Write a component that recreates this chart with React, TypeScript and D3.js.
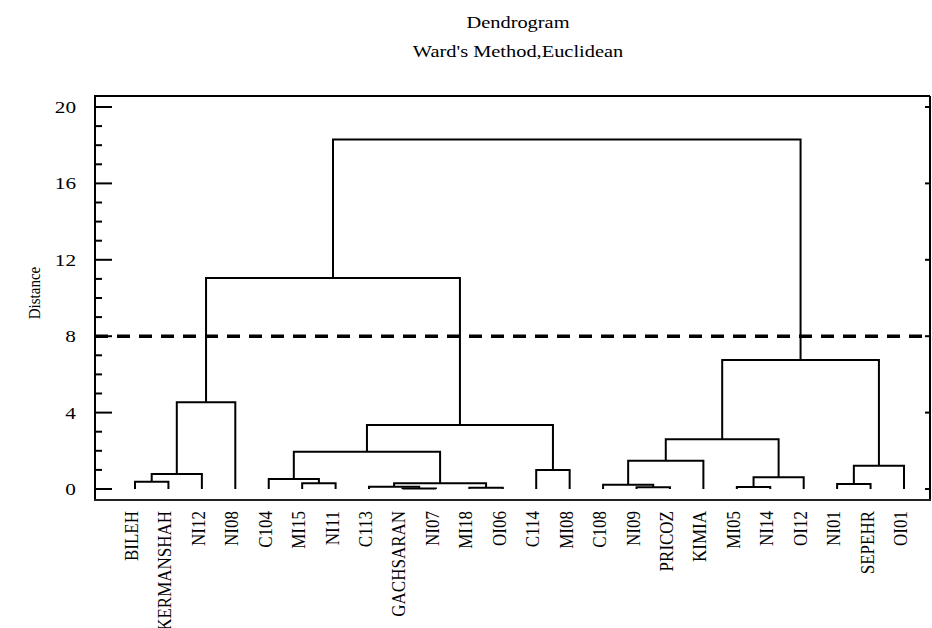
import React from "react";
import * as d3 from "d3";

// leaf order along the bottom
const leaves = [
  "BILEH", "KERMANSHAH", "NI12", "NI08", "C104", "MI15", "NI11", "C113",
  "GACHSARAN", "NI07", "MI18", "OI06", "C114", "MI08", "C108", "NI09",
  "PRICOZ", "KIMIA", "MI05", "NI14", "OI12", "NI01", "SEPEHR", "OI01",
];

// linkage: merge k creates node 24 + k from mergeLeft[k] and mergeRight[k]
const mergeLeft = [8, 10, 15, 18, 7, 14, 21, 28, 5, 0, 4, 27, 33, 12, 30, 29, 34, 39, 40, 36, 41, 43, 45];
const mergeRight = [9, 11, 16, 19, 24, 26, 22, 25, 6, 1, 32, 20, 2, 13, 23, 17, 31, 35, 37, 3, 38, 42, 44];
const mergeHeight = [
  0.03, 0.07, 0.09, 0.1, 0.12, 0.22, 0.26, 0.3, 0.3, 0.38, 0.52, 0.61,
  0.78, 1.0, 1.22, 1.48, 1.95, 2.6, 3.35, 4.54, 6.75, 11.05, 18.3,
];

const yTicks = [0, 4, 8, 12, 16, 20];
const yMinorTicks = d3.range(0, 21, 1);
const cutoff = 8;

const W = 932;
const H = 628;
const left = 95;
const right = 930;
const top = 96;
const bottom = 500;

const App = () => {
  const x = d3.scalePoint<string>().domain(leaves).range([135, 904]);
  const y = d3.scaleLinear().domain([0, 20]).range([489, 107]);

  // positions of every node (leaves first, then merges)
  const nodeX: number[] = leaves.map((d) => x(d) as number);
  const nodeH: number[] = leaves.map(() => 0);
  mergeHeight.forEach((h, k) => {
    nodeX.push((nodeX[mergeLeft[k]] + nodeX[mergeRight[k]]) / 2);
    nodeH.push(h);
  });

  const links = mergeHeight.map((h, k) => {
    const a = mergeLeft[k];
    const b = mergeRight[k];
    const p = d3.path();
    p.moveTo(nodeX[a], y(nodeH[a]));
    p.lineTo(nodeX[a], y(h));
    p.lineTo(nodeX[b], y(h));
    p.lineTo(nodeX[b], y(nodeH[b]));
    return p.toString();
  });

  const font = "'Liberation Serif', 'Times New Roman', serif";

  return (
    <svg
      width={W}
      height={H}
      style={{ position: "absolute", left: 0, top: 0, background: "#fff" }}
      fontFamily={font}
    >
      {/* titles */}
      <text x={0} y={0} transform="translate(518,28) scale(1.2,1)" textAnchor="middle" fontSize={17}>
        Dendrogram
      </text>
      <text x={0} y={0} transform="translate(518,57) scale(1.2,1)" textAnchor="middle" fontSize={17}>
        Ward's Method,Euclidean
      </text>

      {/* y axis title */}
      <text
        transform="translate(40,293) scale(1.1,1) rotate(-90)"
        textAnchor="middle"
        fontSize={15}
      >
        Distance
      </text>

      {/* frame */}
      <g stroke="#000" strokeWidth={2} fill="none">
        <line x1={left} x2={left} y1={top} y2={bottom} />
        <line x1={left - 1} x2={right} y1={top} y2={top} />
        <line x1={right} x2={right} y1={top} y2={bottom} />
        <line x1={left - 1} x2={right + 1} y1={bottom} y2={bottom} stroke="#222" />
      </g>

      {/* left ticks */}
      <g stroke="#000" strokeWidth={2}>
        {yMinorTicks.map((t) => (
          <line key={"m" + t} x1={left} x2={left + (t % 4 === 0 ? 17 : 7)} y1={y(t)} y2={y(t)} />
        ))}
        {yTicks.map((t) => (
          <line key={"r" + t} x1={right - 5} x2={right} y1={y(t)} y2={y(t)} />
        ))}
      </g>
      {yTicks.map((t) => (
        <text
          key={"l" + t}
          transform={`translate(76,${y(t)}) scale(1.25,1)`}
          textAnchor="end"
          dy="0.35em"
          fontSize={17}
        >
          {t}
        </text>
      ))}

      {/* cutoff line */}
      <line
        x1={left}
        x2={right - 6}
        y1={y(cutoff)}
        y2={y(cutoff)}
        stroke="#000"
        strokeWidth={3.5}
        strokeDasharray="13 9"
      />

      {/* dendrogram */}
      <g stroke="#000" strokeWidth={2} fill="none">
        {links.map((d, i) => (
          <path key={i} d={d} />
        ))}
      </g>

      {/* leaf labels */}
      {leaves.map((d) => (
        <text
          key={d}
          transform={`translate(${(x(d) as number) + 3},511) scale(1.15,1) rotate(-90)`}
          textAnchor="end"
          fontSize={17}
        >
          {d}
        </text>
      ))}
    </svg>
  );
};

export default App;
